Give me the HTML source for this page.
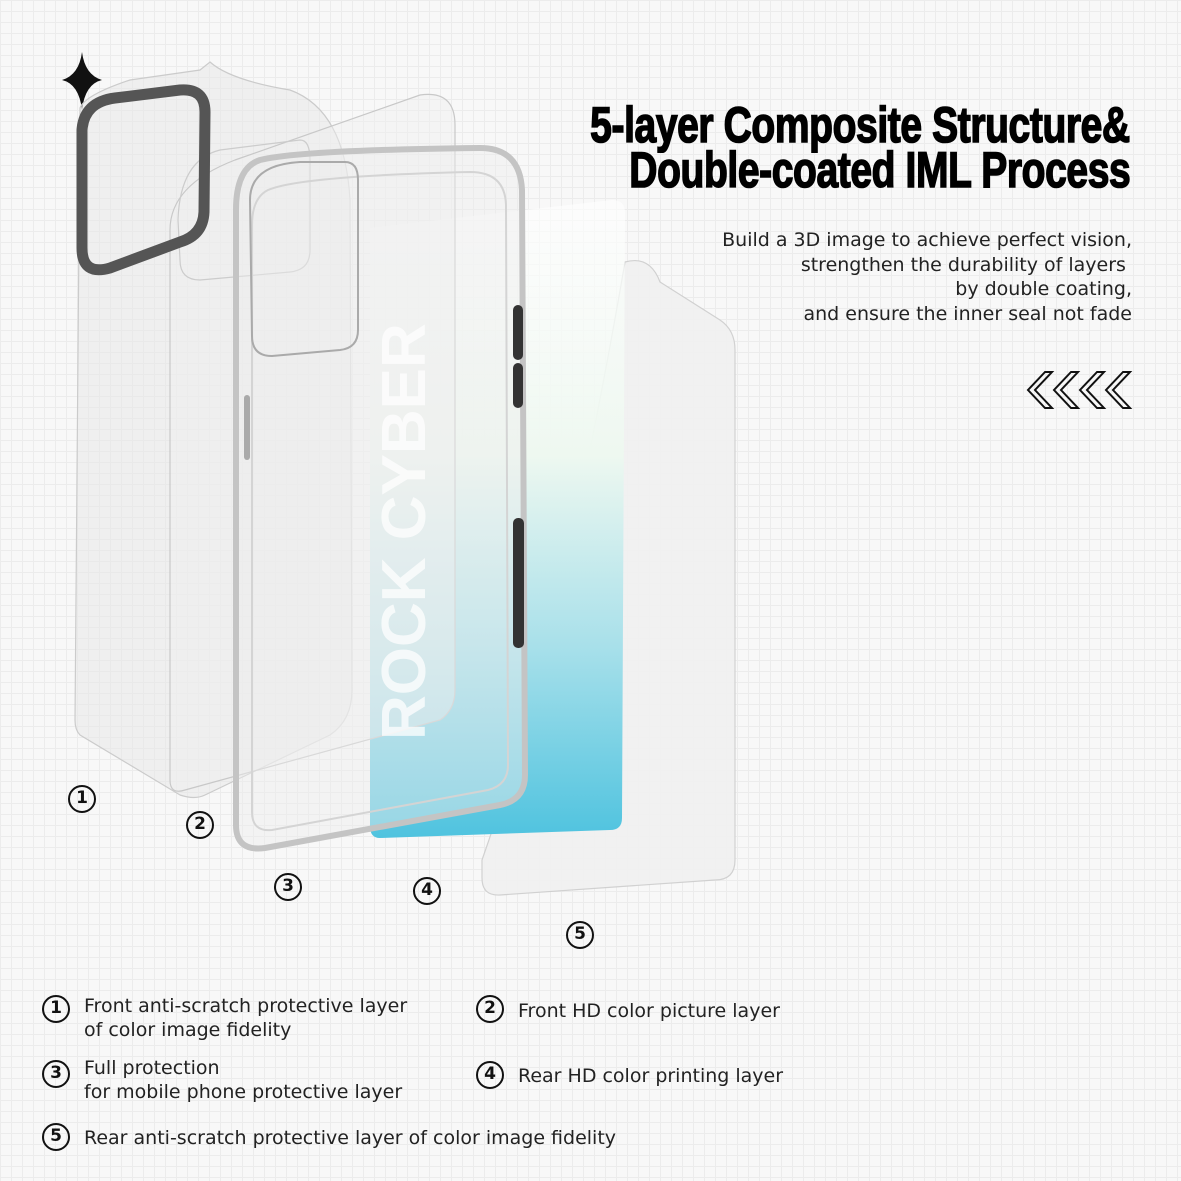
<!DOCTYPE html>
<html><head><meta charset="utf-8"><style>
html,body{margin:0;padding:0}
body{width:1181px;height:1181px;overflow:hidden;position:relative;font-family:"Liberation Sans","DejaVu Sans",sans-serif;
background-color:#f8f8f8;
background-image:linear-gradient(#ececec 1px,transparent 1px),linear-gradient(90deg,#ececec 1px,transparent 1px);
background-size:11px 11px;}
.t{position:absolute;right:51px;font-weight:bold;font-size:50px;line-height:50px;color:#000;transform:scaleX(0.78);transform-origin:right top;white-space:nowrap;letter-spacing:-0.5px;-webkit-text-stroke:1.6px #000}
.d{position:absolute;right:49px;top:228px;text-align:right;font-size:19px;line-height:24.5px;color:#222;font-family:"DejaVu Sans",sans-serif}
.lg{position:absolute;font-family:"DejaVu Sans",sans-serif;font-size:19px;line-height:24px;color:#222;white-space:nowrap}
.c{position:absolute;width:28px;height:28px;border:2.5px solid #111;border-radius:50%;box-sizing:border-box;text-align:center;font-family:"DejaVu Sans",sans-serif;font-size:17px;line-height:23px;color:#111;font-weight:bold}
</style></head><body>
<svg width="1181" height="1181" style="position:absolute;left:0;top:0">
<defs>
<linearGradient id="g4" x1="0" y1="0" x2="0" y2="1">
<stop offset="0" stop-color="#ffffff" stop-opacity="0.6"/>
<stop offset="0.4" stop-color="#eef8f0"/>
<stop offset="0.7" stop-color="#a8e0ea"/>
<stop offset="1" stop-color="#4fc3df"/>
</linearGradient>
</defs>
<path d="M82 52 Q85 75 102 80 Q85 84 82 110 Q79 84 62 80 Q79 75 82 52Z" fill="#111"/>
<!-- layer 5 -->
<path d="M625 262 Q650 255 660 282 L720 320 Q735 330 735 350 L735 860 Q735 880 715 880 L500 895 Q482 896 482 878 L482 860 Q560 640 625 262Z" fill="#f1f1f1" stroke="#cfcfcf" stroke-width="1.2" opacity="0.95"/>
<!-- layer 4 -->
<path d="M370 228 L612 200 Q625 200 625 213 L622 818 Q622 830 610 830 L380 838 Q370 838 370 826Z" fill="url(#g4)"/>
<!-- layer 1 -->
<path d="M80 108 Q85 95 130 80 L200 70 L210 62 Q230 80 290 90 Q345 110 350 200 L352 690 Q352 720 330 735 L205 795 Q195 800 180 795 L80 735 Q75 730 75 720Z" fill="#e8e8e8" fill-opacity="0.55" stroke="#cbcbcb" stroke-width="1.2"/>
<!-- layer 2 -->
<path d="M235 160 L420 95 Q455 90 455 125 L455 690 Q455 710 440 720 L185 790 Q170 795 170 780 L170 230 Q170 185 235 160Z" fill="#f0f0f0" fill-opacity="0.45" stroke="#c8c8c8" stroke-width="1.2"/>
<path d="M178 220 Q180 160 220 150 L300 140 Q310 140 310 160 L310 250 Q310 270 290 272 L200 280 Q180 280 180 260Z" fill="none" stroke="#ccc" stroke-width="1.2"/>
<!-- layer 3 case -->
<path d="M260 160 Q300 150 480 148 Q520 148 522 190 L525 775 Q525 800 500 805 L265 848 Q236 852 236 825 L236 210 Q236 168 260 160Z" fill="#eeeeee" fill-opacity="0.45" stroke="#c4c4c4" stroke-width="6"/>
<path d="M268 190 Q300 176 470 172 Q505 172 506 205 L508 765 Q508 785 488 790 L272 830 Q252 832 252 812 L252 225 Q252 198 268 190Z" fill="none" stroke="#d4d4d4" stroke-width="2"/>
<path d="M250 200 Q250 165 300 162 L345 162 Q358 162 358 180 L358 330 Q358 348 340 350 L272 356 Q252 356 252 336Z" fill="none" stroke="#aaa" stroke-width="2"/>
<rect x="513" y="305" width="10" height="55" rx="5" fill="#333"/>
<rect x="513" y="363" width="10" height="45" rx="5" fill="#333"/>
<rect x="513" y="518" width="11" height="130" rx="5" fill="#333"/>
<rect x="244" y="395" width="6" height="65" rx="3" fill="#aaa"/>
<!-- camera ring -->
<path d="M82 130 Q84 102 115 98 L180 90 Q205 88 205 112 L204 212 Q203 235 180 242 L110 268 Q82 276 82 248Z" fill="none" stroke="#555" stroke-width="11" stroke-linejoin="round"/>
<text x="0" y="0" transform="translate(425,740) rotate(-90)" font-family="Liberation Sans" font-weight="bold" font-size="62" fill="#ffffff" opacity="0.75">ROCK CYBER</text>
<!-- chevrons -->
<g fill="none" stroke="#111" stroke-width="2">
<path d="M1045 372 L1028 390 L1045 408 L1052 408 L1035 390 L1052 372Z"/>
<path d="M1071 372 L1054 390 L1071 408 L1078 408 L1061 390 L1078 372Z"/>
<path d="M1097 372 L1080 390 L1097 408 L1104 408 L1087 390 L1104 372Z"/>
<path d="M1123 372 L1106 390 L1123 408 L1130 408 L1113 390 L1130 372Z"/>
</g>
</svg>
<div class="t" style="top:100px">5-layer Composite Structure&amp;</div>
<div class="t" style="top:145px">Double-coated IML Process</div>
<div class="d">Build a 3D image to achieve perfect vision,<br>strengthen the durability of layers&nbsp;<br>by double coating,<br>and ensure the inner seal not fade</div>
<div class="c" style="left:68px;top:785px">1</div>
<div class="c" style="left:186px;top:811px">2</div>
<div class="c" style="left:274px;top:873px">3</div>
<div class="c" style="left:413px;top:877px">4</div>
<div class="c" style="left:566px;top:921px">5</div>
<div class="c" style="left:42px;top:995px">1</div>
<div class="lg" style="left:84px;top:994px">Front anti-scratch protective layer<br>of color image fidelity</div>
<div class="c" style="left:476px;top:995px">2</div>
<div class="lg" style="left:518px;top:999px">Front HD color picture layer</div>
<div class="c" style="left:42px;top:1060px">3</div>
<div class="lg" style="left:84px;top:1056px">Full protection<br>for mobile phone protective layer</div>
<div class="c" style="left:476px;top:1061px">4</div>
<div class="lg" style="left:518px;top:1064px">Rear HD color printing layer</div>
<div class="c" style="left:42px;top:1123px">5</div>
<div class="lg" style="left:84px;top:1126px">Rear anti-scratch protective layer of color image fidelity</div>
</body></html>
